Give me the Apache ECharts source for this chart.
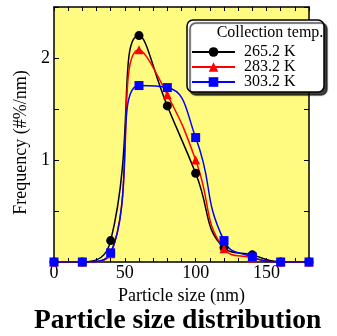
<!DOCTYPE html>
<html>
<head>
<meta charset="utf-8">
<script src="https://cdn.jsdelivr.net/npm/echarts@6/dist/echarts.min.js"></script>
<style>
html,body{margin:0;padding:0;background:#fff;}
#chart{width:337px;height:336px;}
</style>
</head>
<body>
<div id="chart"></div>
<script>
var sizes = [0, 20, 40, 60, 80, 100, 120, 140, 160, 180];
var freq265 = [0, 0, 0.21, 2.22, 1.53, 0.87, 0.14, 0.07, 0, 0];
var freq283 = [0, 0, 0.08, 2.08, 1.64, 1.00, 0.13, 0.04, 0, 0];
var freq303 = [0, 0, 0.09, 1.73, 1.71, 1.22, 0.21, 0.05, 0, 0];
var seriesNames = ['265.2 K', '283.2 K', '303.2 K'];
var xLabels = [0, 50, 100, 150];
var yLabels = [1, 2];

function pairs(vals) { return sizes.map(function (x, i) { return [x, vals[i]]; }); }

var FONT = '"Liberation Serif", "Times New Roman", serif';
var chart = echarts.init(document.getElementById('chart'), null, {renderer: 'canvas'});

function xAxisCfg(pos, labels) {
  return {
    type: 'value', position: pos, min: 0, max: 180, interval: 10,
    axisLine: {show: true, onZero: false, lineStyle: {color: '#000', width: 1.5}},
    axisTick: {show: true, inside: true, length: 4, lineStyle: {color: '#000', width: 1}},
    splitLine: {show: false},
    axisLabel: {
      show: labels, margin: 2, color: '#000', fontFamily: FONT, fontSize: 18,
      formatter: function (v) { return xLabels.indexOf(v) >= 0 ? String(v) : ''; }
    },
    name: labels ? 'Particle size (nm)' : '', nameLocation: 'middle', nameGap: 18,
    nameTextStyle: {color: '#000', fontFamily: FONT, fontSize: 18}
  };
}
function yAxisCfg(pos, labels) {
  return {
    type: 'value', position: pos, min: 0, max: 2.5, interval: 0.5,
    axisLine: {show: true, onZero: false, lineStyle: {color: '#000', width: 1.5}},
    axisTick: {show: true, inside: true, length: 5, lineStyle: {color: '#000', width: 1}},
    splitLine: {show: false},
    axisLabel: {
      show: labels, margin: 4, color: '#000', fontFamily: FONT, fontSize: 18,
      formatter: function (v) { return yLabels.indexOf(v) >= 0 ? String(v) : ''; }
    },
    name: labels ? 'Frequency (#%/nm)' : '', nameLocation: 'middle', nameGap: 24,
    nameTextStyle: {color: '#000', fontFamily: FONT, fontSize: 18, padding: [0, 16, 0, 0]}
  };
}

function mkSeries(name, vals, color, symbol) {
  return {
    name: name, type: 'line', data: pairs(vals), smooth: 0.5,
    symbol: symbol, symbolSize: 9, showSymbol: true,
    lineStyle: {color: color, width: 1.5},
    itemStyle: {color: color, borderWidth: 0},
    xAxisIndex: 0, yAxisIndex: 0, animation: false, z: 2
  };
}

chart.setOption({
  animation: false,
  backgroundColor: '#fff',
  grid: {left: 54, right: 28, top: 7, bottom: 74, show: true, backgroundColor: '#fffb80', borderWidth: 0},
  xAxis: [xAxisCfg('bottom', true), xAxisCfg('top', false)],
  yAxis: [yAxisCfg('left', true), yAxisCfg('right', false)],
  title: {
    text: 'Particle size distribution', left: 34, top: 307, padding: 0,
    textStyle: {color: '#000', fontFamily: FONT, fontSize: 27.5, fontWeight: 'bold'}
  },
  graphic: [
    {type: 'rect', z: 10, shape: {x: 187, y: 20, width: 137, height: 72, r: 6},
     style: {fill: '#fff', stroke: '#000', lineWidth: 1.5, shadowColor: 'rgba(0,0,0,0.75)', shadowBlur: 1, shadowOffsetX: 3, shadowOffsetY: 3}},
    {type: 'text', z: 11, x: 270, y: 33,
     style: {text: 'Collection temp.', fill: '#000', font: '16px ' + FONT, textAlign: 'center', textVerticalAlign: 'middle'}}
  ],
  legend: {
    z: 12, orient: 'vertical', left: 191, top: 44, padding: 0, itemWidth: 43, itemHeight: 12, itemGap: -1,
    data: seriesNames,
    textStyle: {color: '#000', fontFamily: FONT, fontSize: 16, padding: [0, 0, 0, 4]}
  },
  series: [
    mkSeries(seriesNames[0], freq265, '#000000', 'circle'),
    mkSeries(seriesNames[1], freq283, '#ff0000', 'triangle'),
    mkSeries(seriesNames[2], freq303, '#0000ff', 'rect')
  ]
});
</script>
</body>
</html>
